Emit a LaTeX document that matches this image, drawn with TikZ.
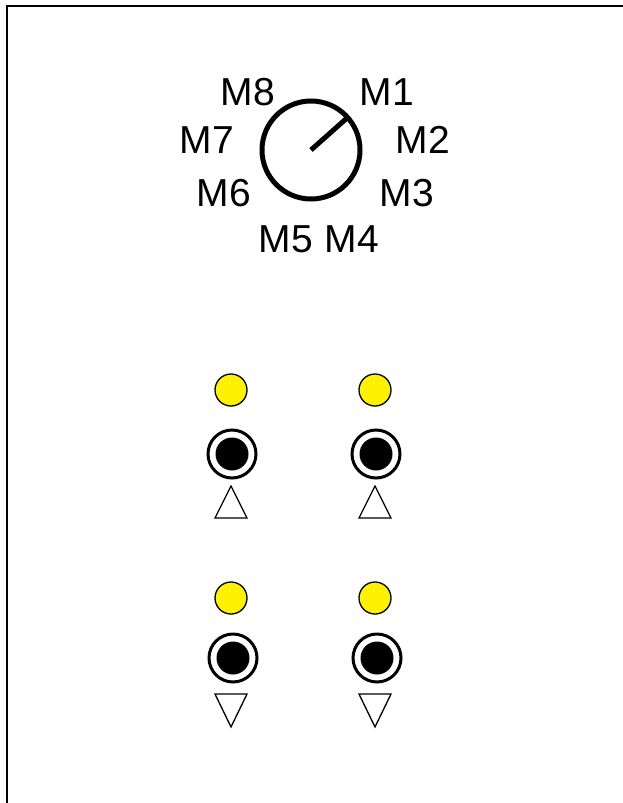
\documentclass[tikz,border=0pt]{standalone}
\usepackage{fontspec}
\setmainfont{Liberation Sans}
\tikzset{
  lbl/.style={inner sep=0pt, font=\fontsize{39}{44}\selectfont},
  led/.style={circle, draw=black, line width=1.3pt, fill=yellow, minimum size=32pt, inner sep=0pt},
  jackring/.style={circle, draw=black, line width=3pt, fill=white, minimum size=48pt, inner sep=0pt},
  jackhole/.style={circle, fill=black, minimum size=33pt, inner sep=0pt},
  tri/.style={draw=black, line width=1.3pt, fill=white, line join=miter}
}
\begin{document}
\begin{tikzpicture}[x=1pt,y=-1pt]
\useasboundingbox (0,0) rectangle (623,803);
\draw[line width=2pt] (7,803) -- (7,6) -- (623,6);
% knob
\node[circle, draw=black, line width=5pt, minimum size=98pt, inner sep=0pt] (knob) at (311,150) {};
\coordinate (ptr) at (347,118);
\draw[line width=5pt] (knob.center) -- (ptr);
\node[lbl] (m1) at (387,92) {M1};
\node[lbl] (m2) at (423,140) {M2};
\node[lbl] (m3) at (407,193) {M3};
\node[lbl] (m4) at (352,239) {M4};
\node[lbl] (m5) at (286,239) {M5};
\node[lbl] (m6) at (224,193) {M6};
\node[lbl] (m7) at (207,140) {M7};
\node[lbl] (m8) at (248,92) {M8};
% top row
\node[led] (led1) at (231,390) {};
\node[led] (led2) at (375,390) {};
\node[jackring] (j1) at (232,454) {};
\node[jackhole] (h1) at (j1.center) {};
\node[jackring] (j2) at (376,454) {};
\node[jackhole] (h2) at (j2.center) {};
\draw[tri] (231,486) -- (247,518) -- (215,518) -- cycle;
\draw[tri] (375,486) -- (391,518) -- (359,518) -- cycle;
% bottom row
\node[led] (led3) at (231,598) {};
\node[led] (led4) at (375,598) {};
\node[jackring] (j3) at (233,658) {};
\node[jackhole] (h3) at (j3.center) {};
\node[jackring] (j4) at (377,658) {};
\node[jackhole] (h4) at (j4.center) {};
\draw[tri] (215,694) -- (247,694) -- (231,727) -- cycle;
\draw[tri] (359,694) -- (391,694) -- (375,727) -- cycle;
\end{tikzpicture}
\end{document}
